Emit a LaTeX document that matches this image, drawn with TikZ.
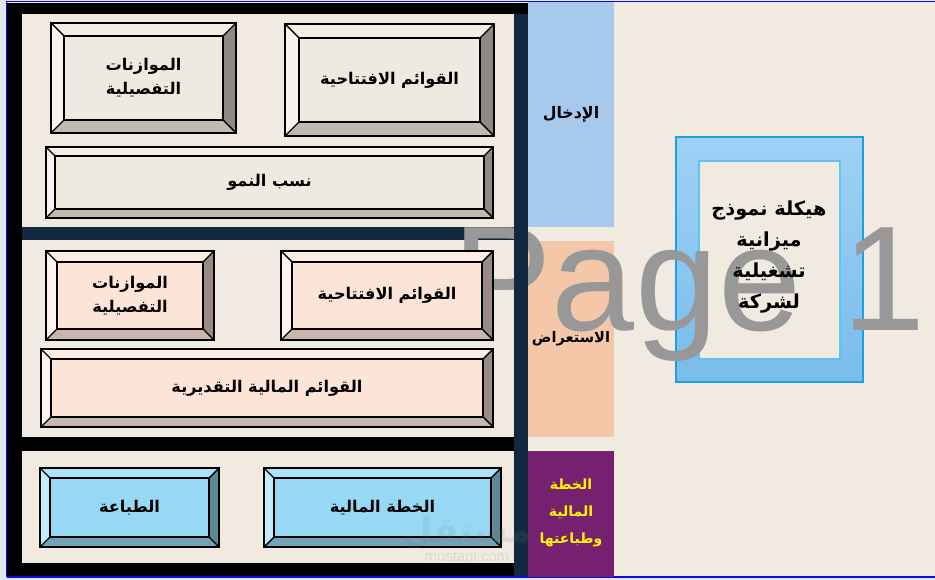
\documentclass[tikz,border=0pt]{standalone}
\usepackage{fontspec}
\newfontfamily\arabicfont[Script=Arabic]{DejaVu Sans}
\newfontfamily\latinfont{Liberation Sans}
\TeXXeTstate=1
\definecolor{paper}{HTML}{F0EAE0}
\definecolor{edge}{HTML}{E2E6EE}
\definecolor{rim}{HTML}{0A0ADC}
\definecolor{navy}{HTML}{12283F}
\definecolor{inCol}{HTML}{A7C9EB}
\definecolor{viewCol}{HTML}{F5C7A9}
\definecolor{planCol}{HTML}{75216F}
\definecolor{modelTop}{HTML}{9ED2F7}
\definecolor{modelBot}{HTML}{79BCEA}
\definecolor{modelRim}{HTML}{1E9FE0}
\definecolor{modelIn}{HTML}{62C2F0}
\definecolor{pagegray}{HTML}{989898}
\definecolor{stoneF}{HTML}{EFEAE0}
\definecolor{stoneT}{HTML}{F3EFE7}
\definecolor{stoneL}{HTML}{F7F4EF}
\definecolor{stoneR}{HTML}{8E8982}
\definecolor{stoneB}{HTML}{C0BAB0}
\definecolor{peachF}{HTML}{FCE4D6}
\definecolor{peachT}{HTML}{FDECE3}
\definecolor{peachL}{HTML}{FEF3EE}
\definecolor{peachR}{HTML}{9A8A82}
\definecolor{peachB}{HTML}{C9B5AB}
\definecolor{skyF}{HTML}{97D9F5}
\definecolor{skyT}{HTML}{ABE2F8}
\definecolor{skyL}{HTML}{C4EBFA}
\definecolor{skyR}{HTML}{5E8797}
\definecolor{skyB}{HTML}{71A3B8}
\newcommand{\bevel}[8]{%
  \fill[#7T] (#2,#3) -- (#4,#3) -- (#4-#6,#3+#6) -- (#2+#6,#3+#6) -- cycle;
  \fill[#7L] (#2,#3) -- (#2+#6,#3+#6) -- (#2+#6,#5-#6) -- (#2,#5) -- cycle;
  \fill[#7R] (#4,#3) -- (#4,#5) -- (#4-#6,#5-#6) -- (#4-#6,#3+#6) -- cycle;
  \fill[#7B] (#2,#5) -- (#4,#5) -- (#4-#6,#5-#6) -- (#2+#6,#5-#6) -- cycle;
  \filldraw[fill=#7F, draw=black, line width=1.1pt] (#2+#6,#3+#6) rectangle (#4-#6,#5-#6);
  \draw[line width=0.8pt] (#2,#3) -- (#2+#6,#3+#6) (#4,#3) -- (#4-#6,#3+#6)
    (#2,#5) -- (#2+#6,#5-#6) (#4,#5) -- (#4-#6,#5-#6);
  \draw[line width=1.6pt] (#2,#3) rectangle (#4,#5);
  \node[boxtext] (#1) at ({(#2+#4)/2},{(#3+#5)/2}) {#8};
}
\begin{document}
\begin{tikzpicture}[x=0.02cm, y=-0.02cm,
  boxtext/.style={font=\arabicfont\bfseries\fontsize{9.2}{13.5}\selectfont, align=center, inner sep=0},
  coltext/.style={font=\arabicfont\bfseries\fontsize{9}{15}\selectfont, align=center, inner sep=0},
  modeltext/.style={font=\arabicfont\bfseries\fontsize{11}{17.5}\selectfont, align=center, inner sep=0},
  pagemark/.style={font=\latinfont\fontsize{85}{85}\selectfont, text=pagegray, inner sep=0, anchor=base west},
  wmark/.style={text=gray, opacity=0.15, inner sep=0}]
\useasboundingbox (0,0) rectangle (935,580);
\fill[edge] (0,0) rectangle (935,580);
\fill[paper] (7,2) rectangle (935,577);
\draw[rim, line width=0.9pt] (6.5,577) -- (6.5,1.5) -- (935,1.5);
\draw[rim, line width=1.1pt] (6.5,577) -- (935,577);

\fill[black] (7,3) rectangle (528,576);
\fill[paper] (22,14) rectangle (514,227);
\fill[navy] (22,227) rectangle (514,240);
\fill[paper] (22,240) rectangle (514,437);
\fill[paper] (22,451) rectangle (514,563);

\fill[inCol] (528,2) rectangle (614,227);
\fill[viewCol] (528,241) rectangle (614,437);
\fill[planCol] (528,451) rectangle (614,577);

\shade[top color=modelTop, bottom color=modelBot, draw=modelRim, line width=0.6pt] (676,137) rectangle (863,382);
\filldraw[fill=paper, draw=modelIn, line width=0.6pt] (699,161) rectangle (840,359);

\node[pagemark] (pg) at (452,331) {Page 1};
\fill[navy] (514,14) rectangle (528,576);

\bevel{mA}{51}{23}{236}{133}{13}{stone}{\beginR الموازنات\endR\\\beginR التفصيلية\endR}
\bevel{oA}{285}{24}{494}{136}{14}{stone}{\beginR القوائم الافتتاحية\endR}
\bevel{gA}{46}{147}{493}{218}{9}{stone}{\beginR نسب النمو\endR}
\bevel{mB}{46}{251}{214}{340}{11}{peach}{\beginR الموازنات\endR\\\beginR التفصيلية\endR}
\bevel{oB}{281}{251}{493}{340}{11}{peach}{\beginR القوائم الافتتاحية\endR}
\bevel{fB}{41}{349}{493}{427}{10}{peach}{\beginR القوائم المالية التقديرية\endR}
\bevel{pC}{40}{468}{219}{547}{10}{sky}{\beginR الطباعة\endR}
\bevel{kC}{264}{468}{501}{547}{10}{sky}{\beginR الخطة المالية\endR}

\node[coltext] (lblIn) at (571,114) {\beginR الإدخال\endR};
\node[coltext, font=\arabicfont\bfseries\fontsize{8.3}{15}\selectfont] (lblView) at (571,339) {\beginR الاستعراض\endR};
\node[coltext, text=yellow, font=\arabicfont\bfseries\fontsize{8}{15.5}\selectfont] (lblPlan) at (571,513)
  {\beginR الخطة\endR\\\beginR المالية\endR\\\beginR وطباعتها\endR};
\node[modeltext] (lblModel) at (769,257)
  {\beginR هيكلة نموذج\endR\\\beginR ميزانية\endR\\\beginR تشغيلية\endR\\\beginR لشركة\endR};

\node[wmark, font=\arabicfont\bfseries\fontsize{20}{20}\selectfont] (wmA) at (467,532) {\beginR مستقل\endR};
\node[wmark, font=\latinfont\fontsize{8.5}{8.5}\selectfont] (wmB) at (467,558) {mostaql.com};
\end{tikzpicture}
\end{document}
